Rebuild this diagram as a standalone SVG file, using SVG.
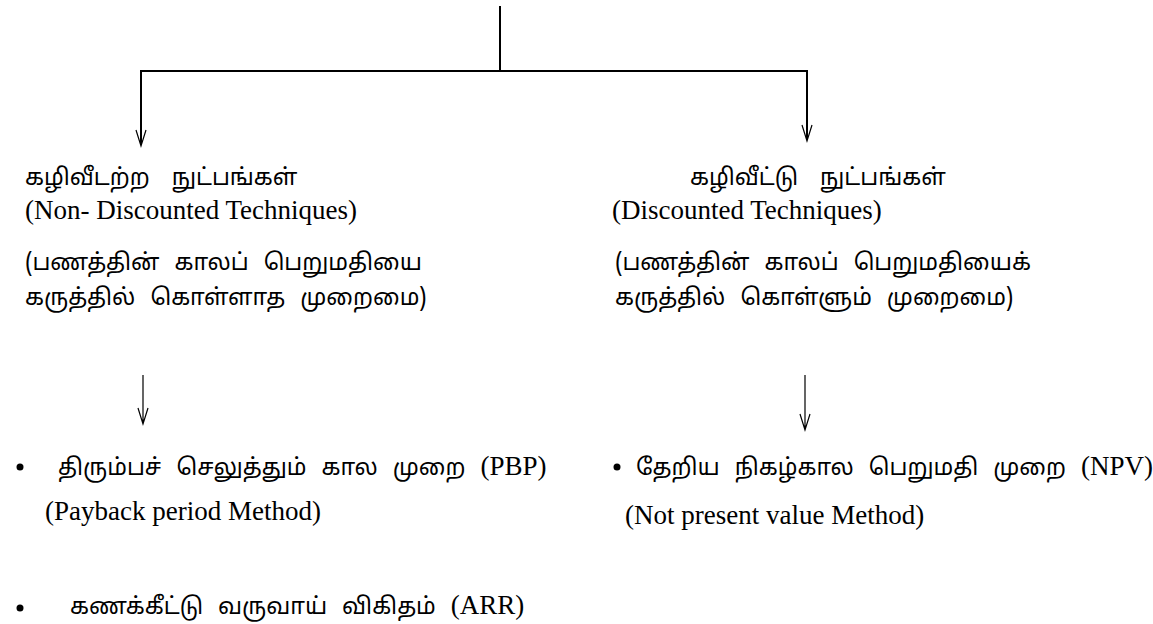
<svg xmlns="http://www.w3.org/2000/svg" width="1153" height="624" viewBox="0 0 1153 624">
  <style>
    .ta { font-family: "Noto Sans Tamil", "Latha", "Lohit Tamil", "Noto Sans", sans-serif; font-size: 23px; word-spacing: 9px; fill: #000; }
    .wide { word-spacing: 16px; }
    .en { font-family: "Liberation Serif", "Times New Roman", serif; font-size: 27px; word-spacing: 0; fill: #000; }
    .ln { fill: none; stroke: #000; stroke-width: 2; }
    .head { fill: none; stroke: #000; stroke-width: 1.2; }
  </style>
  <rect width="1153" height="624" fill="#fff"/>

  <!-- tree connectors: trunk, bar, two branch arrows, two lower arrows -->
  <g id="connectors">
    <path class="ln" d="M500 6 V71"/>
    <path class="ln" d="M140 71 H808"/>
    <path class="ln" d="M141 71 V145"/>
    <path class="head" d="M136 130 L141 146 L146 130"/>
    <path class="ln" d="M807 71 V140"/>
    <path class="head" d="M802 125 L807 141 L812 125"/>
    <path class="head" d="M143 375 V424 M138 408 L143 424 L148 408"/>
    <path class="head" d="M805 375 V430 M800 414 L805 430 L810 414"/>
  </g>

  <g id="non-discounted">
    <text class="ta wide" x="25" y="185">கழிவீடற்ற நுட்பங்கள்</text>
    <text class="en" x="25" y="219">(Non- Discounted Techniques)</text>
    <text class="ta" x="25" y="270">(பணத்தின் காலப் பெறுமதியை</text>
    <text class="ta" x="25" y="305">கருத்தில் கொள்ளாத முறைமை)</text>
  </g>

  <g id="discounted">
    <text class="ta wide" x="690" y="185">கழிவீட்டு நுட்பங்கள்</text>
    <text class="en" x="612" y="219">(Discounted Techniques)</text>
    <text class="ta" x="615" y="270">(பணத்தின் காலப் பெறுமதியைக்</text>
    <text class="ta" x="615" y="305">கருத்தில் கொள்ளும் முறைமை)</text>
  </g>

  <g id="pbp">
    <circle cx="20" cy="467" r="3.5" fill="#000"/>
    <text class="ta" x="58" y="475">திரும்பச் செலுத்தும் கால முறை <tspan class="en">(PBP)</tspan></text>
    <text class="en" x="45" y="520">(Payback period Method)</text>
  </g>

  <g id="arr">
    <circle cx="20" cy="608" r="3.5" fill="#000"/>
    <text class="ta" x="70" y="614">கணக்கீட்டு வருவாய் விகிதம் <tspan class="en">(ARR)</tspan></text>
  </g>

  <g id="npv">
    <circle cx="617" cy="467" r="3.5" fill="#000"/>
    <text class="ta" x="636" y="475">தேறிய நிகழ்கால பெறுமதி முறை <tspan class="en">(NPV)</tspan></text>
    <text class="en" x="625" y="524">(Not present value Method)</text>
  </g>
</svg>
